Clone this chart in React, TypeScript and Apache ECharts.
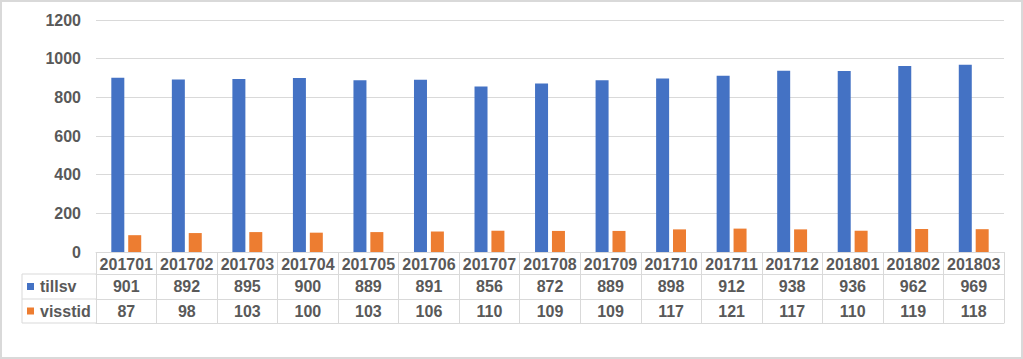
import React, { useEffect, useRef } from "react";
import * as echarts from "echarts";

const categories = ["201701","201702","201703","201704","201705","201706","201707","201708","201709","201710","201711","201712","201801","201802","201803"];
const seriesNames = ["tillsv", "visstid"];
const seriesColors = ["#4472C4", "#ED7D31"];
const tillsv = [901,892,895,900,889,891,856,872,889,898,912,938,936,962,969];
const visstid = [87,98,103,100,103,106,110,109,109,117,121,117,110,119,118];
const yTicks = { min: 0, max: 1200, interval: 200 };

const TEXT = "#595959";
const LINE = "#d9d9d9";
const FONT = "Liberation Sans";
const WEIGHT = "bold";

export default function App() {
  const ref = useRef<HTMLDivElement>(null);
  useEffect(() => {
    if (!ref.current) return;
    const chart = echarts.init(ref.current, undefined, { renderer: "svg" });
    const gridLeft = 96, gridRight = 19, gridTop = 20, gridBottomY = 252;
    const rowH = [22, 25, 24];
    const labelStyle = { color: TEXT, fontSize: 16, fontFamily: FONT, fontWeight: WEIGHT, margin: 4 };
    const tableAxis = (data: string[], offset: number, tickLen: number, showLabel = true) => ({
      type: "category",
      position: "bottom",
      offset,
      data,
      boundaryGap: true,
      axisLine: { show: true, lineStyle: { color: LINE, width: 1 } },
      axisTick: { show: tickLen > 0, length: tickLen, interval: 0, lineStyle: { color: LINE, width: 1 } },
      axisLabel: { show: showLabel, interval: 0, ...labelStyle },
      splitLine: { show: false },
    });
    const y1 = gridBottomY + rowH[0];
    const y2 = y1 + rowH[1];
    const y3 = y2 + rowH[2];
    const rowCenters = [(y1 + y2) / 2, (y2 + y3) / 2];
    const legendGraphics: any[] = [];
    seriesNames.forEach((name, i) => {
      const cy = rowCenters[i];
      legendGraphics.push({ type: "rect", shape: { x: 27, y: cy - 3.5, width: 7, height: 7 }, style: { fill: seriesColors[i] }, silent: true });
      legendGraphics.push({
        type: "text", x: 40, y: cy,
        style: { text: name, fill: TEXT, font: `${WEIGHT} 16px '${FONT}'`, verticalAlign: "middle", align: "left" },
        silent: true,
      });
    });
    chart.setOption({
      animation: false,
      textStyle: { fontFamily: FONT, fontWeight: WEIGHT, fontSize: 16, color: TEXT },
      grid: { left: gridLeft, right: gridRight, top: gridTop, bottom: 359 - gridBottomY, containLabel: false },
      xAxis: [
        tableAxis(categories, 0, rowH[0]),
        tableAxis(tillsv.map(String), rowH[0], rowH[1]),
        tableAxis(visstid.map(String), rowH[0] + rowH[1], rowH[2]),
        tableAxis(categories.map(() => ""), rowH[0] + rowH[1] + rowH[2], 0, false),
      ],
      yAxis: {
        type: "value",
        min: yTicks.min,
        max: yTicks.max,
        interval: yTicks.interval,
        axisLine: { show: false },
        axisTick: { show: false },
        axisLabel: { color: TEXT, fontSize: 16, fontFamily: FONT, fontWeight: WEIGHT, margin: 15, formatter: (v: number) => String(v) },
        splitLine: { lineStyle: { color: LINE, width: 1 } },
      },
      series: [
        { name: seriesNames[0], type: "bar", data: tillsv, xAxisIndex: 0, barWidth: 13, barGap: "30%", itemStyle: { color: seriesColors[0] } },
        { name: seriesNames[1], type: "bar", data: visstid, xAxisIndex: 0, barWidth: 13, barGap: "30%", itemStyle: { color: seriesColors[1] } },
      ],
      graphic: [
        { type: "rect", shape: { x: 1, y: 1, width: 1021, height: 357 }, style: { fill: "none", stroke: LINE, lineWidth: 2 }, silent: true },
        { type: "line", shape: { x1: 22, y1: y1, x2: gridLeft, y2: y1 }, style: { stroke: LINE, lineWidth: 1 } },
        { type: "line", shape: { x1: 22, y1: y2, x2: gridLeft, y2: y2 }, style: { stroke: LINE, lineWidth: 1 } },
        { type: "line", shape: { x1: 22, y1: y3, x2: gridLeft, y2: y3 }, style: { stroke: LINE, lineWidth: 1 } },
        { type: "line", shape: { x1: 22, y1: y1, x2: 22, y2: y3 }, style: { stroke: LINE, lineWidth: 1 } },
        ...legendGraphics,
      ],
    });
    return () => chart.dispose();
  }, []);
  return <div ref={ref} style={{ position: "absolute", left: 0, top: 0, width: 1023, height: 359, background: "#fff" }} />;
}
